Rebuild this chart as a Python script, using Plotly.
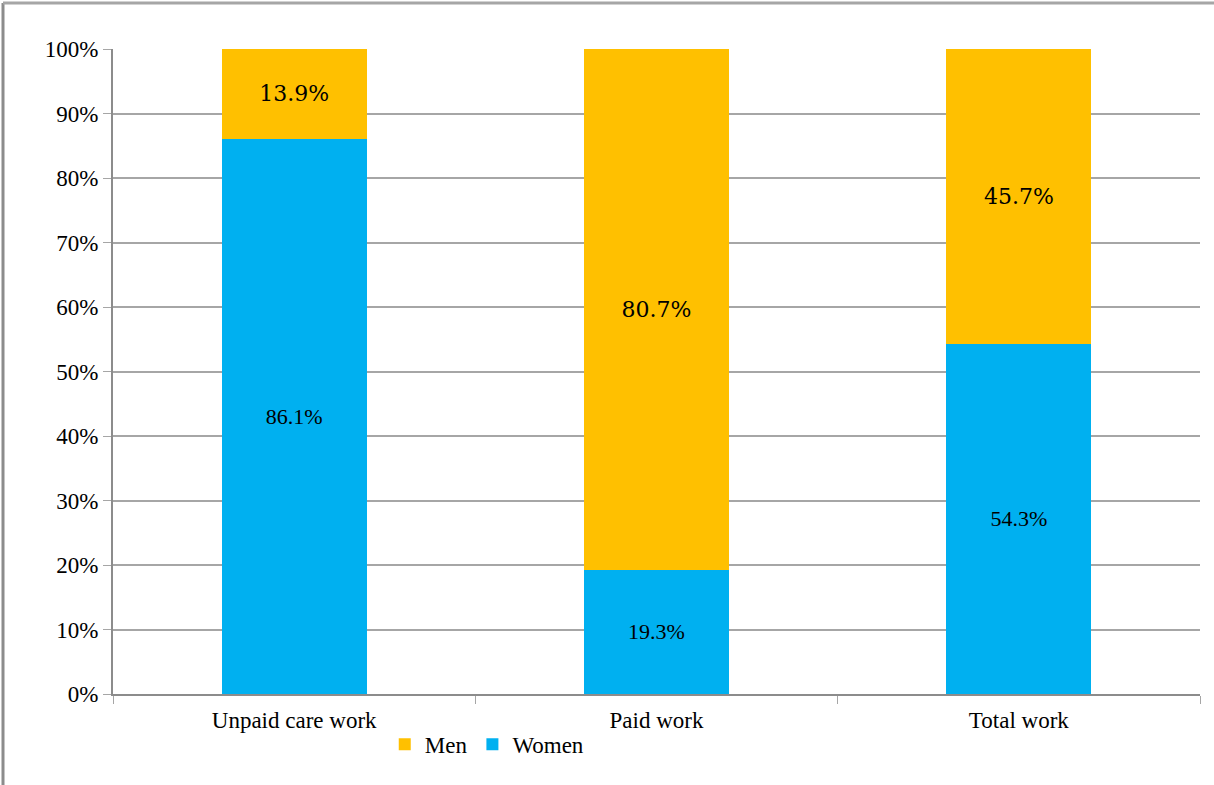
import plotly.graph_objects as go

categories = ["Unpaid care work", "Paid work", "Total work"]
women = [86.1, 19.3, 54.3]
men = [13.9, 80.7, 45.7]
women_labels = ["86.1%", "19.3%", "54.3%"]
men_labels = ["13.9%", "80.7%", "45.7%"]

fig = go.Figure()
fig.add_trace(go.Bar(
    x=categories, y=[v / 100 for v in women], name="Women",
    marker=dict(color="#00B0F0", line=dict(width=0)),
    text=women_labels, textposition="inside", insidetextanchor="middle",
    textfont=dict(family="Liberation Serif", size=22, color="black"),
    width=0.4,
))
fig.add_trace(go.Bar(
    x=categories, y=[v / 100 for v in men], name="Men",
    marker=dict(color="#FFC000", line=dict(width=0)),
    text=men_labels, textposition="inside", insidetextanchor="middle",
    textfont=dict(family="DejaVu Serif", size=22, color="black"),
    width=0.4,
))

fig.update_layout(
    width=1214, height=785,
    margin=dict(l=113, r=14, t=49, b=91, autoexpand=False),
    barmode="stack",
    plot_bgcolor="white", paper_bgcolor="white",
    font=dict(family="Liberation Serif", size=23, color="black"),
    uniformtext=dict(mode=False),
    showlegend=True,
    legend=dict(orientation="h", x=0.25, y=-0.078, xanchor="left", yanchor="middle",
                traceorder="reversed", font=dict(family="Liberation Serif", size=23),
                itemwidth=30, tracegroupgap=0,
                bgcolor="rgba(0,0,0,0)"),
    yaxis=dict(range=[0, 1], dtick=0.1, tickformat=".0%", showgrid=True,
               gridcolor="#a6a6a6", gridwidth=1.5, showline=True, linecolor="#8c8c8c",
               linewidth=2, ticks="outside", ticklen=8, tickcolor="#a6a6a6",
               zeroline=False, fixedrange=True, ticklabelstandoff=0),
    xaxis=dict(showline=True, linecolor="#8c8c8c", linewidth=2, ticks="outside",
               tickson="boundaries", ticklen=8, tickcolor="#a6a6a6", showgrid=False,
               ticklabelstandoff=4),
    shapes=[
        dict(type="line", xref="paper", yref="paper", x0=(3 - 113) / 1087, x1=(3 - 113) / 1087,
             y0=1 + 46 / 645, y1=(694 - 790) / 645, line=dict(color="#8c8c8c", width=3)),
        dict(type="line", xref="paper", yref="paper", x0=(3 - 113) / 1087, x1=1.02,
             y0=1 + 46 / 645, y1=1 + 46 / 645, line=dict(color="#a6a6a6", width=3)),
    ],
)

fig.write_html("out.html")
